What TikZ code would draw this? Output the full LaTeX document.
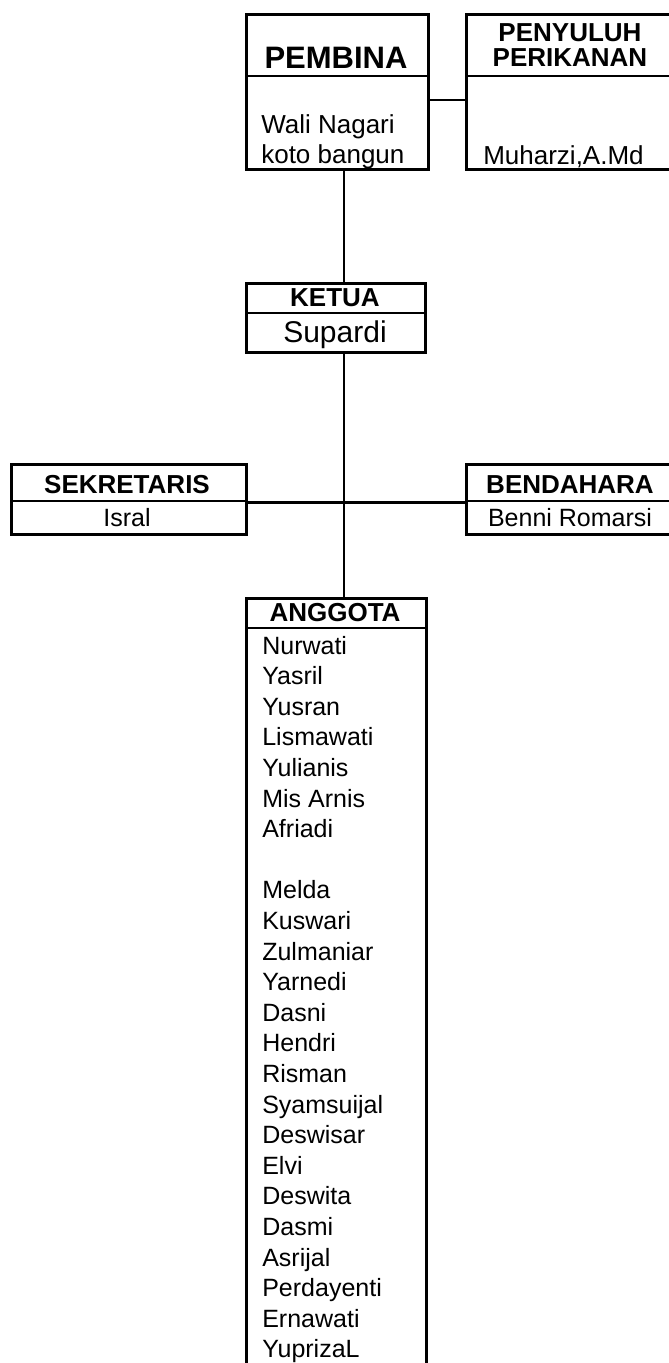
\documentclass[tikz,border=0pt]{standalone}
\usepackage{fontspec}
\setmainfont{Liberation Sans}
\usepackage{tikz}

\newcommand{\namesize}{\fontsize{25}{30.6}\selectfont}
\newcommand{\headsize}{\fontsize{26}{31}\selectfont\bfseries}

\tikzset{
  unit/.style={draw, rectangle, anchor=north west, inner sep=0pt},
  head/.style={font=\headsize, anchor=base, inner sep=0pt},
  plain/.style={font=\namesize, anchor=base, inner sep=0pt},
  member/.style={font=\namesize, anchor=base west, inner sep=0pt}
}

\begin{document}
\begin{tikzpicture}[x=1pt,y=-1pt,line width=2.6pt]
\useasboundingbox (0,0) rectangle (669,1363);
\clip (0,0) rectangle (669,1363);

% boxes
\node[unit, minimum width=182pt, minimum height=155pt] (pembina) at (245,13) {};
\node[unit, minimum width=210pt, minimum height=155pt] (penyuluh) at (465,13) {};
\node[unit, minimum width=179pt, minimum height=69pt] (ketua) at (245,282) {};
\node[unit, minimum width=235pt, minimum height=70pt] (sekretaris) at (10,463) {};
\node[unit, minimum width=210pt, minimum height=70pt] (bendahara) at (465,463) {};
\node[unit, minimum width=180pt, minimum height=800pt] (anggota) at (245,597) {};

% dividers
\draw ([yshift=-63pt]pembina.north west) -- ([yshift=-63pt]pembina.north east);
\draw ([yshift=-63pt]penyuluh.north west) -- ([yshift=-63pt]penyuluh.north east);
\draw ([yshift=-31pt]ketua.north west) -- ([yshift=-31pt]ketua.north east);
\draw ([yshift=-38pt]sekretaris.north west) -- ([yshift=-38pt]sekretaris.north east);
\draw ([yshift=-38pt]bendahara.north west) -- ([yshift=-38pt]bendahara.north east);
\draw ([yshift=-31pt]anggota.north west) -- ([yshift=-31pt]anggota.north east);

% lines
\coordinate (spine) at (344,0);
\draw ([yshift=-8pt]pembina.east) -- ([yshift=-8pt]penyuluh.west);
\draw (pembina.south -| spine) -- (ketua.north -| spine);
\draw (ketua.south -| spine) -- (anggota.north -| spine);
\draw ([yshift=-3pt]sekretaris.east) -- ([yshift=-3pt]bendahara.west);

% texts
\node[head, font=\fontsize{31}{31}\selectfont\bfseries] (pembinaT) at (336,68) {PEMBINA};
\node[member, font=\fontsize{26}{31}\selectfont] (pembinaA) at (260,133) {Wali Nagari};
\node[member, font=\fontsize{26}{31}\selectfont] (pembinaB) at (260,163) {koto bangun};
\node[head] (penyuluhA) at (570,41) {PENYULUH};
\node[head] (penyuluhB) at (570,66) {PERIKANAN};
\node[member, font=\fontsize{26}{31}\selectfont] (penyuluhN) at (482,164) {Muharzi,A.Md};
\node[head] (ketuaT) at (335,306) {KETUA};
\node[plain, font=\fontsize{30}{31}\selectfont] (ketuaN) at (335,342) {Supardi};
\node[head] (sekretarisT) at (127,493) {SEKRETARIS};
\node[plain] (sekretarisN) at (127,526) {Isral};
\node[head] (bendaharaT) at (570,493) {BENDAHARA};
\node[plain] (bendaharaN) at (570,526) {Benni Romarsi};
\node[head] (anggotaT) at (335,621) {ANGGOTA};

\foreach \who [count=\i from 0] in {Nurwati,Yasril,Yusran,Lismawati,Yulianis,Mis Arnis,Afriadi}
  \node[member] (member\i) at (261,{654+30.6*\i}) {\who};
\foreach \who [count=\i from 8] in {Melda,Kuswari,Zulmaniar,Yarnedi,Dasni,Hendri,Risman,Syamsuijal,Deswisar,Elvi,Deswita,Dasmi,Asrijal,Perdayenti,Ernawati,YuprizaL}
  \node[member] (member\i) at (261,{654+30.6*\i}) {\who};
\end{tikzpicture}
\end{document}
